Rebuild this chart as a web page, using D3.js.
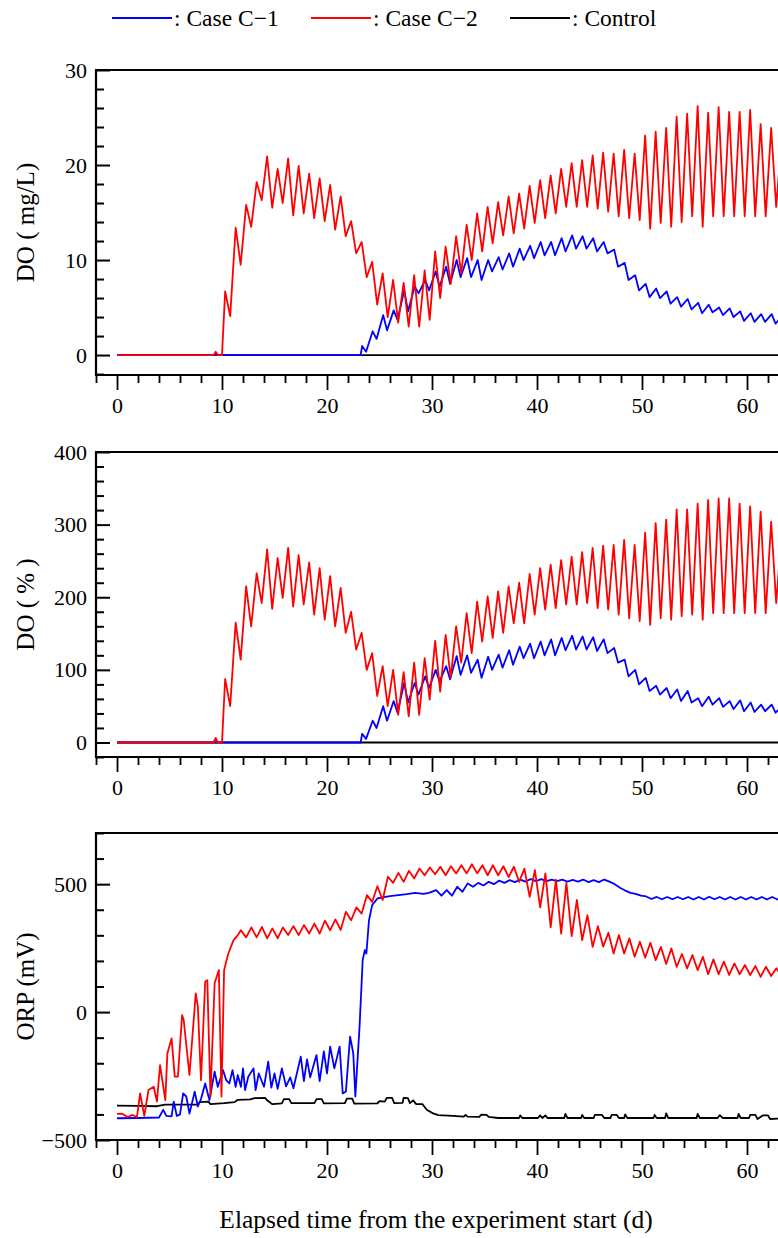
<!DOCTYPE html>
<html>
<head>
<meta charset="utf-8">
<script src="https://cdn.jsdelivr.net/npm/d3@7/dist/d3.min.js"></script>
<style>
  body { margin: 0; background: #fff; }
  svg { display: block; }
  text { font-family: "Liberation Serif", "Times New Roman", serif; fill: #000; }
</style>
</head>
<body>
<svg id="chart" width="778" height="1238"></svg>
<script>
// ---------------- data ----------------
// Elapsed days; daily cycles are stored as the day's peak and trough readings.

// DO (mg/L)
const doC2Lead    = [[0,0],[9.2,0],[9.4,0.35],[9.6,0],[10.0,0]];
const doC2Peaks   = [6.7,13.4,15.8,18.2,20.9,19.6,20.7,19.9,19.1,18.6,
                     17.9,16.7,14.1,11.9,9.8,8.6,7.9,7.6,8.4,8.9,
                     10.9,11.4,12.5,13.7,14.9,15.6,16.1,16.7,17.0,17.8,
                     18.4,18.9,19.6,20.2,20.5,21.0,21.3,21.2,21.6,21.2,
                     23.1,23.5,23.9,25.1,25.4,26.2,25.5,26.1,25.6,25.6,
                     25.8,24.3,23.9,22.8];            // days 10..63
const doC2Troughs = [4.1,9.5,13.5,16.3,15.5,16.0,14.7,14.9,14.4,14.1,
                     13.2,12.5,10.7,8.2,5.3,4.0,3.4,3.0,3.0,3.7,
                     6.0,7.5,8.6,10.0,10.9,11.75,12.6,12.8,13.3,13.9,
                     14.4,14.9,15.6,15.6,15.6,15.4,15.1,14.6,14.4,14.2,
                     13.3,13.9,13.5,14.0,14.6,13.5,14.6,14.6,14.6,14.6,
                     14.6,14.6,15.6];                 // days 10..62
const doC1Lead    = [[0,0],[23.2,0]];
const doC1Peaks   = [0.95,2.5,4.2,4.7,6.8,7.2,7.9,
                     8.8,9.3,10.0,10.2,10.0,10.0,10.3,10.7,11.2,11.5,
                     11.9,11.9,12.3,12.6,12.5,12.3,11.9,11.1,9.7,8.4,
                     7.5,7.0,6.7,6.1,5.9,5.5,5.3,5.0,4.9,4.6,
                     4.4,4.3,4.3,4.1];                // days 23..63
const doC1Troughs = [0.35,1.7,2.6,3.7,4.6,6.5,6.8,
                     7.2,7.5,8.2,8.2,7.9,8.8,9.0,9.3,10.0,10.2,
                     10.5,10.5,10.9,11.2,11.2,10.9,10.7,9.3,7.9,6.8,
                     6.1,6.0,5.4,5.1,4.8,4.4,4.5,4.2,4.0,3.6,
                     3.5,3.5,3.3];                    // days 23..62
const doControl   = [[0,0],[66,0]];

// DO (%)
const pctC2Lead    = [[0,0],[9.2,0],[9.4,6.4],[9.6,0],[10.0,0]];
const pctC2Peaks   = [87.5,165,215,233,266,254,268,258,248,240,
                      229,213,180,151,123,105,100,97,110,116,
                      140,148,160,178,194,201,208,215,220,232,
                      240,245,251,256,262,268,271,272,279,272,
                      289,302,307,321,321,329,334,336,336,329,
                      325,318,304,288];               // days 10..63
const pctC2Troughs = [50,114,160,192,184,199,187,190,176,169,
                      160,151,128,100,64,50,38,36,38,59,
                      70,89,110,123,139,144,151,164,164,176,
                      183,185,190,190,192,185,183,176,171,167,
                      162,171,169,174,176,169,178,178,178,178,
                      178,178,192];                   // days 10..62
const pctC1Lead    = [[0,0],[23.2,0]];
const pctC1Peaks   = [12,30,50,57,82,82,91,
                      100,105,119,120,114,118,121,127,132,136,
                      139,142,144,147,146,145,142,130,114,100,
                      89,78,75,73,71,61,63,61,57,58,
                      55,52,52,50];                   // days 23..63
const pctC1Troughs = [5,20,30,41,55,66,75,
                      84,87,93,96,89,100,103,107,116,116,
                      120,120,127,128,128,126,123,110,91,80,
                      71,66,61,57,55,50,52,49,46,43,
                      42,43,41];                      // days 23..62
const pctControl   = [[0,0],[66,0]];

// ORP (mV)
const orpC2Lead = [[0,-398],[0.5,-397],[1.0,-410],[1.5,-402],[1.9,-411],[2.2,-318],[2.6,-406],
                   [3.0,-305],[3.5,-292],[3.8,-350],[4.1,-207],[4.6,-344],[4.8,-161],[5.2,-103],
                   [5.5,-252],[5.8,-252],[6.2,-12],[6.35,-30],[6.9,-246],[7.5,73],[7.7,21],
                   [8.0,-266],[8.4,119],[8.6,125],[8.9,-330],[9.3,114],[9.7,164],[9.95,-330],
                   [10.2,164],[10.6,229],[11.1,281],[11.5,300]];
const orpC2Peaks   = [320,331,333,327,331,336,340,346,357,362,
                      392,409,457,492,529,544,552,561,565,568,
                      570,574,578,574,574,570,568,561,555,542,
                      518,505,438,379,336,310,301,288,275,271,
                      255,249,227,223,216,206,197,190,184,180,
                      177,171];                       // days 11..62
const orpC2Troughs = [292,292,288,288,301,301,307,307,320,321,
                      359,385,431,438,505,509,522,535,539,535,
                      542,542,542,535,535,528,509,450,409,331,
                      307,297,281,255,256,229,229,216,213,203,
                      188,177,171,164,148,148,145,148,145,138,
                      141,138];                       // days 12..63
const orpC1Lead = [[0,-415],[2,-414],[4.0,-412],[4.4,-382],[4.7,-406],[5.2,-408],[5.4,-350],
                   [5.7,-406],[6.0,-400],[6.3,-318],[6.6,-330],[6.9,-397],[7.4,-311],[7.7,-369],
                   [8.0,-340],[8.4,-279],[8.8,-344],[9.3,-233],[9.6,-292],[10.1,-227],[10.4,-266],
                   [10.7,-279],[11.0,-227],[11.3,-292],[11.5,-246],[11.8,-292],[12.0,-220],
                   [12.2,-305],[12.5,-253],[13.0,-220],[13.2,-305],[13.5,-240],[14.0,-292],
                   [14.4,-194],[14.7,-295],[15.0,-240],[15.3,-300],[15.7,-220],[16.1,-290],
                   [16.5,-255],[16.8,-298],[17.5,-174],[17.8,-270],[18.1,-185],[18.4,-255],
                   [19.0,-168],[19.3,-270],[19.7,-154],[20.0,-240],[20.3,-135],[20.7,-220],
                   [21.2,-135],[21.5,-318],[21.8,-310],[22.2,-96],[22.5,-161],[22.7,-330],
                   [23.1,-57],[23.4,203],[23.6,242],[23.75,229],[24.0,359],[24.3,418],
                   [24.8,444],[25.3,448],[26.0,453],[26.8,457],[27.6,461],[28.4,466],
                   [29.2,462],[29.7,466]];
const orpC1Peaks   = [477,477,490,503,505,509,514,516,518,520,
                      520,518,518,517,518,516,518,500,475,462,
                      452,450,450,450,450,450,451,450,450,450,
                      450,450,450,452];               // days 30..63
const orpC1Troughs = [455,455,470,490,495,500,505,508,510,512,
                      512,512,510,510,508,508,510,486,466,455,
                      442,441,441,441,440,440,441,440,440,440,
                      440,440,440,442];               // days 30..63
const orpControl = [[0,-366],[1.9,-367],[3.8,-368],[4.6,-362],[7.6,-362],[7.9,-352],[8.7,-350],
                    [8.9,-360],[10.2,-356],[11.2,-352],[11.5,-343],[12.7,-341],[13.1,-336],
                    [14.1,-335],[14.3,-345],[14.8,-360],[15.7,-357],[15.9,-340],[16.4,-340],
                    [16.6,-356],[18.8,-356],[19.0,-340],[19.5,-340],[19.7,-357],[21.7,-356],
                    [21.9,-338],[22.4,-338],[22.6,-358],[24.8,-357],[25.0,-348],[25.5,-350],
                    [25.7,-335],[26.2,-335],[26.4,-356],[27.2,-355],[27.3,-335],[27.7,-336],
                    [27.9,-356],[28.2,-345],[28.5,-360],[29.1,-360],[29.5,-382],[30.1,-396],
                    [30.6,-403],[32.0,-406],[33.0,-409],[33.2,-402],[33.4,-409],[34.5,-410],
                    [34.7,-401],[35.2,-402],[35.4,-410],[36.3,-414],[38.3,-414],[38.4,-404],
                    [38.6,-414],[40.1,-414],[40.3,-404],[40.5,-414],[40.8,-404],[41.0,-414],
                    [42.6,-414],[42.7,-398],[42.9,-414],[44.2,-414],[44.3,-402],[44.5,-414],
                    [45.4,-414],[45.5,-402],[46.2,-402],[46.4,-414],[47.0,-414],[47.1,-402],
                    [47.6,-402],[47.8,-414],[48.3,-414],[48.4,-400],[48.6,-414],[51.1,-414],
                    [51.2,-402],[51.4,-414],[52.2,-414],[52.3,-396],[52.5,-414],[55.2,-414],
                    [55.3,-398],[55.5,-414],[57.2,-414],[57.4,-403],[57.7,-414],[59.1,-414],
                    [59.2,-398],[59.4,-414],[60.2,-414],[60.3,-402],[60.8,-402],[61.0,-418],
                    [61.5,-404],[62.0,-404],[62.2,-418],[63.0,-416],[63.3,-410],[64.5,-413]];

// axis ticks
const xMajorTicks = [0,10,20,30,40,50,60];
const xMinorTicks = d3.range(-2, 65, 2).filter(d => d % 10 !== 0);
const panels = [
  { title: "DO ( mg/L)", domain: [-2.1, 30],  major: [0,10,20,30],       minorStep: 2 },
  { title: "DO ( % )",   domain: [-20, 400],  major: [0,100,200,300,400], minorStep: 20 },
  { title: "ORP (mV)",   domain: [-500, 700], major: [-500,0,500],       minorStep: 100 }
];
const seriesNames  = ["Case C\u22121", "Case C\u22122", "Control"];
const seriesColors = ["#0000ff", "#ff0000", "#000000"];
const xTitle = "Elapsed time from the experiment start (d)";

// ---------------- helpers ----------------
// Interleave the daily peak/trough readings behind a lead-in segment.
function daily(lead, firstDay, peakAt, troughAt, peaks, troughs) {
  const pts = lead.map(p => p.slice());
  peaks.forEach((v, i) => pts.push([firstDay + i + peakAt, v]));
  troughs.forEach((v, i) => pts.push([firstDay + i + troughAt, v]));
  return pts.sort((a, b) => a[0] - b[0]);
}

const panelSeries = [
  [doControl,
   daily(doC1Lead, 23, 0.35, 0.72, doC1Peaks, doC1Troughs),
   daily(doC2Lead, 10, 0.3, 0.78, doC2Peaks, doC2Troughs)],
  [pctControl,
   daily(pctC1Lead, 23, 0.35, 0.72, pctC1Peaks, pctC1Troughs),
   daily(pctC2Lead, 10, 0.3, 0.78, pctC2Peaks, pctC2Troughs)],
  [orpControl,
   daily(orpC1Lead, 30, 0.4, 0.9, orpC1Peaks, orpC1Troughs),
   daily(orpC2Lead, 11, 0.8, 1.3, orpC2Peaks, orpC2Troughs)]
];
const seriesColorOrder = ["#000000", "#0000ff", "#ff0000"];

// ---------------- layout ----------------
const FONT = "Liberation Serif";
const svg = d3.select("#chart");
const left = 96, right = 96 + 67 * 10.5;
const x = d3.scaleLinear().domain([-2, 65]).range([left, right]);
const frames = [[70, 375], [452, 757], [833, 1140]];

// legend
const legendX = [112, 311, 510];
seriesNames.forEach((name, i) => {
  const g = svg.append("g").attr("transform", `translate(${legendX[i]},18)`);
  g.append("line").attr("x1", 0).attr("x2", 60).attr("y1", 0).attr("y2", 0)
    .attr("stroke", seriesColors[i]).attr("stroke-width", 1.8);
  g.append("text").attr("x", 62).attr("y", 0).attr("dy", "0.35em")
    .attr("font-family", FONT).style("font-size", "23.5px").text(": " + name);
});

panels.forEach((p, k) => {
  const [top, bottom] = frames[k];
  const y = d3.scaleLinear().domain(p.domain).range([bottom, top]);
  const g = svg.append("g");

  const clipId = "clip" + k;
  svg.append("clipPath").attr("id", clipId).append("rect")
    .attr("x", left).attr("y", top).attr("width", right - left).attr("height", bottom - top);

  // data lines
  const line = d3.line().x(d => x(d[0])).y(d => y(d[1]));
  const lines = g.append("g").attr("clip-path", `url(#${clipId})`);
  panelSeries[k].forEach((pts, i) => {
    lines.append("path").datum(pts).attr("d", line)
      .attr("fill", "none").attr("stroke", seriesColorOrder[i])
      .attr("stroke-width", 1.8).attr("stroke-linejoin", "round");
  });

  // frame
  g.append("path")
    .attr("d", `M${right},${top}H${left}V${bottom}H${right}`)
    .attr("fill", "none").attr("stroke", "#000").attr("stroke-width", 2.2);

  // y axis: ticks point inward
  const yMinor = d3.range(p.domain[0] < 0 ? Math.ceil(p.domain[0] / p.minorStep) * p.minorStep : 0,
                          p.domain[1] + 1e-9, p.minorStep)
                   .filter(v => !p.major.includes(v));
  const yMajAxis = d3.axisLeft(y).tickValues(p.major).tickSizeInner(-14).tickSizeOuter(0)
                     .tickPadding(9).tickFormat(d => d < 0 ? "\u2212" + Math.abs(d) : d);
  const yMinAxis = d3.axisLeft(y).tickValues(yMinor).tickSizeInner(-8).tickSizeOuter(0).tickFormat("");
  [yMajAxis, yMinAxis].forEach(ax => {
    const a = g.append("g").attr("transform", `translate(${left},0)`).call(ax)
      .attr("font-family", FONT).attr("font-size", 22);
    a.select(".domain").remove();
    a.selectAll("line").attr("stroke-width", 2);
  });

  // x axis: ticks point outward
  const xMajAxis = d3.axisBottom(x).tickValues(xMajorTicks).tickSizeInner(15).tickSizeOuter(0).tickPadding(7);
  const xMinAxis = d3.axisBottom(x).tickValues(xMinorTicks).tickSizeInner(8).tickSizeOuter(0).tickFormat("");
  [xMajAxis, xMinAxis].forEach(ax => {
    const a = g.append("g").attr("transform", `translate(0,${bottom})`).call(ax)
      .attr("font-family", FONT).attr("font-size", 22);
    a.select(".domain").remove();
    a.selectAll("line").attr("stroke-width", 1.8);
  });

  // y title
  g.append("text")
    .attr("transform", `translate(25,${(top + bottom) / 2}) rotate(-90)`)
    .attr("text-anchor", "middle").attr("dy", "0.35em")
    .attr("font-family", FONT).style("font-size", "25px").text(p.title);
});

svg.append("text").attr("x", 436).attr("y", 1228).attr("text-anchor", "middle")
  .attr("font-family", FONT).style("font-size", "25.5px").text(xTitle);
</script>
</body>
</html>
